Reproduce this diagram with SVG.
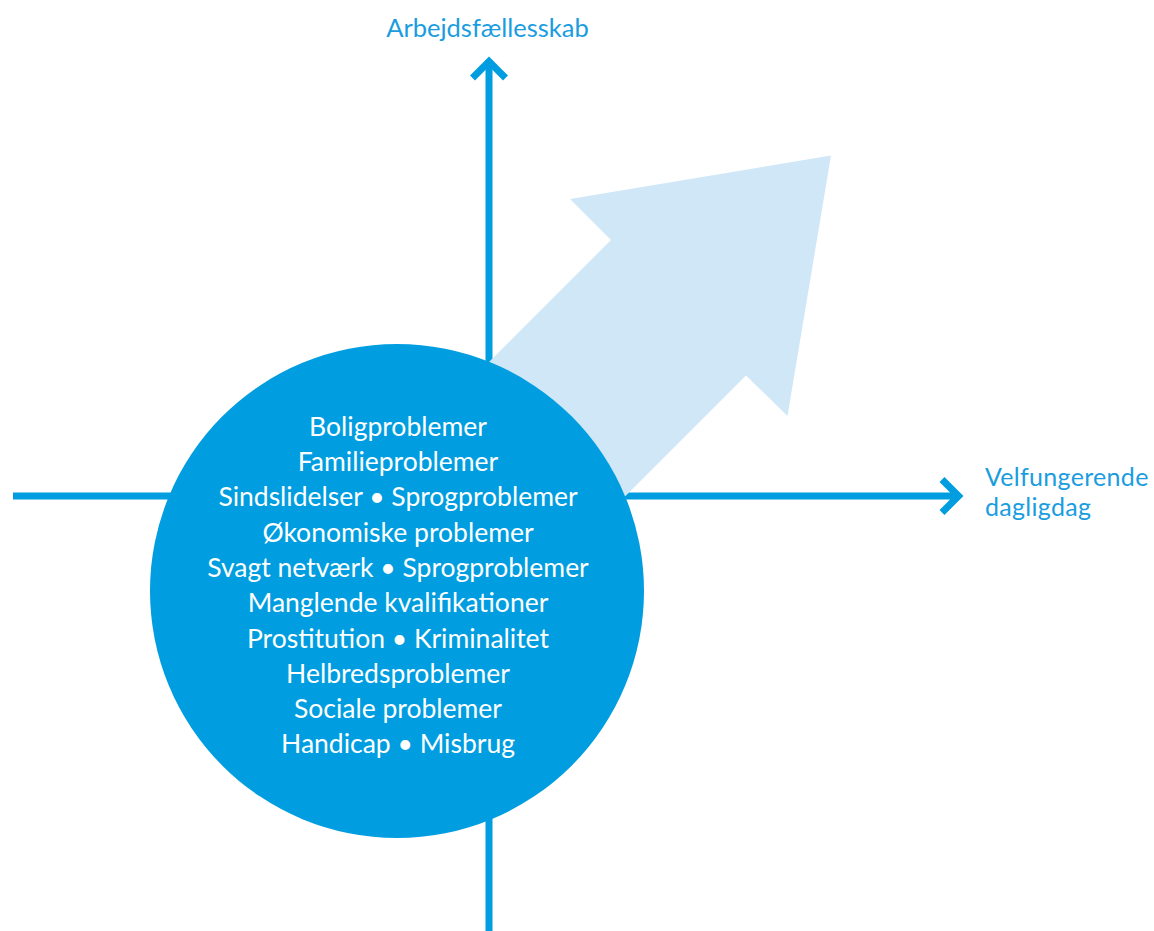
<svg xmlns="http://www.w3.org/2000/svg" width="1154" height="931" viewBox="0 0 1154 931">
<style>
.axis{fill:none;stroke:#009ee0;stroke-width:7;stroke-linejoin:miter;stroke-linecap:butt}
.lbl{font-family:Lato,"Noto Sans",sans-serif;font-size:25.5px;fill:#1a9de0}
.lbl2{font-family:Lato,"Noto Sans",sans-serif;font-size:25px;letter-spacing:0.3px;fill:#1a9de0}
.item{font-family:Lato,"Noto Sans",sans-serif;font-size:26.5px;fill:#ffffff;text-anchor:middle}
</style>
<rect width="1154" height="931" fill="#ffffff"/>
<g id="connectors">
<line class="axis" x1="489" y1="931" x2="489" y2="60"/>
<polyline class="axis" points="472.5,78 489,61.5 505.5,78"/>
<line class="axis" x1="13" y1="496" x2="958" y2="496"/>
<polyline class="axis" points="942,479.5 958.5,496 942,512.5"/>
</g>
<g id="growth-arrow">
<polygon points="831,155.5 570,199 611,240 420,431 560,561.5 746,375.5 787.5,416" fill="#d0e7f8"/>
</g>
<g id="problems">
<circle cx="397" cy="591" r="247" fill="#009ee0"/>
<text class="item" x="398" y="435.7">Boligproblemer</text>
<text class="item" x="398" y="471">Familieproblemer</text>
<text class="item" x="398" y="506.3">Sindslidelser • Sprogproblemer</text>
<text class="item" x="398" y="541.6">Økonomiske problemer</text>
<text class="item" x="398" y="576.9">Svagt netværk • Sprogproblemer</text>
<text class="item" x="398" y="612.2">Manglende kvalifikationer</text>
<text class="item" x="398" y="647.5">Prostitution • Kriminalitet</text>
<text class="item" x="398" y="682.8">Helbredsproblemer</text>
<text class="item" x="398" y="718.1">Sociale problemer</text>
<text class="item" x="398" y="753.4">Handicap • Misbrug</text>
</g>
<g id="label-top">
<text class="lbl" x="487.5" y="37" text-anchor="middle">Arbejdsfællesskab</text>
</g>
<g id="label-right">
<text class="lbl2" x="985" y="486"><tspan x="985" y="486">Velfungerende</tspan><tspan x="985" y="516">dagligdag</tspan></text>
</g>
</svg>
